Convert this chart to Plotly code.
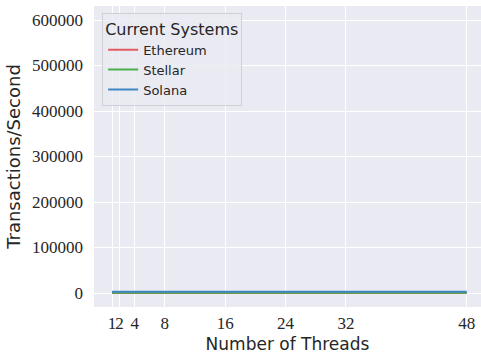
import plotly.graph_objects as go

threads = [1, 2, 4, 8, 16, 24, 32, 48]
ethereum = [15, 15, 15, 15, 15, 15, 15, 15]
stellar = [500, 500, 500, 500, 500, 500, 500, 500]
solana = [3000, 3000, 3000, 3000, 3000, 3000, 3000, 3000]

x_ticks = [1, 2, 4, 8, 16, 24, 32, 48]
y_ticks = [0, 100000, 200000, 300000, 400000, 500000, 600000]

series = [
    ("Ethereum", ethereum, "#e05c5e"),
    ("Stellar", stellar, "#4daf4a"),
    ("Solana", solana, "#3f86c2"),
]

fig = go.Figure()
for name, vals, col in series:
    fig.add_trace(go.Scatter(x=threads, y=vals, mode="lines", name=name,
                             line=dict(color=col, width=2)))

serif = "Liberation Serif"
sans = "DejaVu Sans"

fig.update_layout(
    width=481, height=354,
    margin=dict(l=94, r=0, t=6, b=47),
    paper_bgcolor="white",
    plot_bgcolor="#EAEAF2",
    showlegend=True,
    legend=dict(
        title=dict(text="Current Systems", font=dict(family=sans, size=16, color="#262626")),
        font=dict(family=sans, size=13, color="#262626"),
        x=0.021, y=0.977, xanchor="left", yanchor="top",
        bgcolor="rgba(234,234,242,0.8)",
        bordercolor="#cfcfd6", borderwidth=1,
        itemwidth=30,
    ),
    xaxis=dict(
        range=[-1.385, 49.89],
        tickmode="array", tickvals=x_ticks, ticktext=[str(v) for v in x_ticks],
        tickangle=0,
        showgrid=True, gridcolor="white", gridwidth=1.3,
        zeroline=False, showline=False, ticks="",
        tickfont=dict(family=serif, size=17, color="#262626"),
        ticklabelstandoff=4,
        title=dict(text="Number of Threads", font=dict(family=sans, size=17, color="#262626"), standoff=6),
    ),
    yaxis=dict(
        range=[-30770, 630770],
        tickmode="array", tickvals=y_ticks, ticktext=[str(v) for v in y_ticks],
        showgrid=True, gridcolor="white", gridwidth=1.3,
        zeroline=False, showline=False, ticks="",
        tickfont=dict(family=serif, size=17, color="#262626"),
        ticklabelstandoff=10,
        title=dict(text="Transactions/Second", font=dict(family=sans, size=18, color="#262626"), standoff=6),
    ),
)

fig.write_html("out.html")
